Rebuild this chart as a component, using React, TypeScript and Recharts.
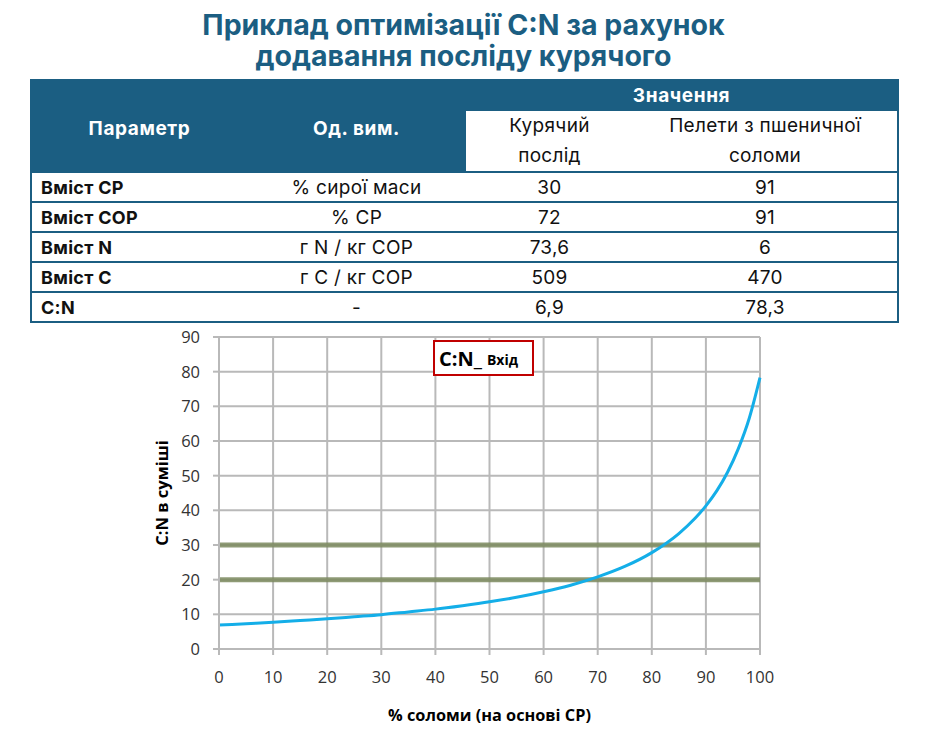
import React from "react";
import {
  LineChart,
  Line,
  XAxis,
  YAxis,
  CartesianGrid,
  ReferenceLine,
  Legend,
} from "recharts";

// table
const parameters = ["Вміст СР", "Вміст СОР", "Вміст N", "Вміст С", "C:N"];
const units = ["% сирої маси", "% СР", "г N / кг СОР", "г С / кг СОР", "-"];
const manureValues = ["30", "72", "73,6", "509", "6,9"];
const strawValues = ["91", "91", "6", "470", "78,3"];

// chart
const strawShare = [0, 5, 10, 15, 20, 25, 30, 35, 40, 45, 50, 55, 60, 65, 70, 75, 80, 85, 88, 90, 92, 94, 96, 98, 100];
const cnMix = [6.9, 7.3, 7.7, 8.2, 8.7, 9.3, 9.9, 10.7, 11.5, 12.5, 13.6, 14.9, 16.5, 18.4, 20.8, 23.8, 27.8, 33.3, 37.7, 41.3, 45.6, 51.0, 57.8, 66.5, 78.3];
const targetBand = [20, 30];
const xTicks = [0, 10, 20, 30, 40, 50, 60, 70, 80, 90, 100];
const yTicks = [0, 10, 20, 30, 40, 50, 60, 70, 80, 90];

const BLUE = "#1b5e82";
const GRID = "#b9b9b9";
const chartFont = "'Open Sans', 'Noto Sans', sans-serif";

const chartData = strawShare.map((x, i) => ({ x, cn: cnMix[i] }));

const th: React.CSSProperties = {
  background: BLUE,
  color: "#fff",
  fontWeight: 700,
  textAlign: "center",
  padding: 0,
  fontSize: 19,
  letterSpacing: 0.6,
};

const subTh: React.CSSProperties = {
  ...th,
  background: "#fff",
  color: "#111",
  fontWeight: 400,
  lineHeight: "30px",
  letterSpacing: 0.3,
};

const td: React.CSSProperties = {
  borderTop: `2px solid ${BLUE}`,
  textAlign: "center",
  padding: 0,
  height: 28,
  letterSpacing: 0.3,
};

function LegendBox() {
  return (
    <div
      style={{
        width: 101,
        height: 36,
        boxSizing: "border-box",
        border: "2px solid #c00000",
        display: "flex",
        alignItems: "center",
        paddingLeft: 4,
        fontFamily: chartFont,
        fontWeight: 700,
        color: "#000",
        background: "#fff",
      }}
    >
      <span style={{ fontSize: 20 }}>C:N_</span>
      <span style={{ fontSize: 14, marginLeft: 5, marginTop: 3 }}>Вхід</span>
    </div>
  );
}

export default function App() {
  return (
    <div
      style={{
        position: "absolute",
        left: 0,
        top: 0,
        width: 927,
        height: 733,
        background: "#fff",
        fontFamily: "Inter, Roboto, sans-serif",
      }}
    >
      <div
        style={{
          position: "absolute",
          top: 9,
          left: 0,
          width: 927,
          textAlign: "center",
          color: BLUE,
          fontSize: 28.5,
          fontWeight: 700,
          lineHeight: "31px",
        }}
      >
        Приклад оптимізації C:N за рахунок
        <br />
        додавання посліду курячого
      </div>

      <table
        style={{
          position: "absolute",
          left: 30,
          top: 79,
          width: 867,
          borderCollapse: "collapse",
          tableLayout: "fixed",
          fontSize: 19,
          color: "#111",
          borderLeft: `2px solid ${BLUE}`,
          borderRight: `2px solid ${BLUE}`,
          borderBottom: `2px solid ${BLUE}`,
        }}
      >
        <colgroup>
          <col style={{ width: 216 }} />
          <col style={{ width: 219 }} />
          <col style={{ width: 167 }} />
          <col style={{ width: 265 }} />
        </colgroup>
        <tbody>
          <tr style={{ height: 32 }}>
            <th rowSpan={2} style={{ ...th, paddingTop: 6 }}>Параметр</th>
            <th rowSpan={2} style={{ ...th, paddingTop: 6 }}>Од. вим.</th>
            <th colSpan={2} style={th}>Значення</th>
          </tr>
          <tr style={{ height: 60 }}>
            <th style={subTh}>
              Курячий
              <br />
              послід
            </th>
            <th style={subTh}>
              Пелети з пшеничної
              <br />
              соломи
            </th>
          </tr>
          {parameters.map((p, i) => (
            <tr key={p} style={{ height: 30 }}>
              <td style={{ ...td, textAlign: "left", paddingLeft: 9, fontWeight: 700, fontSize: 18 }}>{p}</td>
              <td style={td}>{units[i]}</td>
              <td style={td}>{manureValues[i]}</td>
              <td style={td}>{strawValues[i]}</td>
            </tr>
          ))}
        </tbody>
      </table>

      <div style={{ position: "absolute", left: 150, top: 325 }}>
        <LineChart
          width={650}
          height={408}
          data={chartData}
          margin={{ top: 12, right: 40, left: 5, bottom: 9 }}
        >
          <CartesianGrid stroke={GRID} strokeWidth={2} />
          <XAxis
            type="number"
            dataKey="x"
            domain={[0, 100]}
            ticks={xTicks}
            height={75}
            stroke={GRID}
            strokeWidth={2}
            tickSize={6}
            tickMargin={16}
            tick={{ fill: "#333", fontSize: 16.5, fontFamily: chartFont }}
            label={{
              value: "% соломи (на основі СР)",
              position: "insideBottom",
              offset: 3,
              style: { fill: "#000", fontWeight: 700, fontSize: 16.3, fontFamily: chartFont },
            }}
          />
          <YAxis
            type="number"
            domain={[0, 90]}
            ticks={yTicks}
            width={64}
            stroke={GRID}
            strokeWidth={2}
            tickSize={6}
            tickMargin={13}
            tick={{ fill: "#333", fontSize: 16.5, fontFamily: chartFont }}
            label={{
              value: "C:N в суміші",
              angle: -90,
              position: "insideLeft",
              offset: 7,
              style: { textAnchor: "middle", fill: "#000", fontWeight: 700, fontSize: 16.5, fontFamily: chartFont },
            }}
          />
          {targetBand.map((v) => (
            <ReferenceLine key={v} y={v} stroke="#7b8a5e" strokeWidth={5} strokeOpacity={0.85} />
          ))}
          <Legend
            layout="vertical"
            align="center"
            verticalAlign="middle"
            content={() => <LegendBox />}
            wrapperStyle={{ left: 283, top: 15, width: 101 }}
          />
          <Line
            type="monotone"
            dataKey="cn"
            stroke="#14aee8"
            strokeWidth={3}
            dot={false}
            isAnimationActive={false}
          />
        </LineChart>
      </div>
    </div>
  );
}
